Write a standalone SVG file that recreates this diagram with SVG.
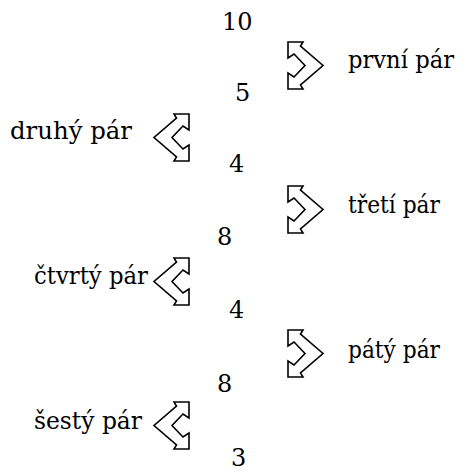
<svg xmlns="http://www.w3.org/2000/svg" width="465" height="472" viewBox="0 0 465 472">
<style>
.t{font-family:'DejaVu Serif',serif;font-size:24px;fill:#000}
.arw{fill:#fff;stroke:#000;stroke-width:1.6;stroke-linejoin:miter}
</style>
<defs>
<path id="chev" d="M0,0 H15 L12.5,4 L35,23.5 L12.5,43 L15,47 H0 V31 L6,35 L17,23.5 L6,12 L0,16 Z"/>
</defs>
<g id="numbers">
<text class="t" x="222" y="30">10</text>
<text class="t" x="235" y="101">5</text>
<text class="t" x="229" y="172">4</text>
<text class="t" x="217" y="245">8</text>
<text class="t" x="229" y="318">4</text>
<text class="t" x="217" y="392">8</text>
<text class="t" x="231" y="466">3</text>
</g>
<g id="pair1"><use href="#chev" class="arw" transform="translate(288,42)"/><text class="t" x="348" y="68" textLength="106" lengthAdjust="spacingAndGlyphs">první pár</text></g>
<g id="pair2"><use href="#chev" class="arw" transform="translate(189,114) scale(-1,1)"/><text class="t" x="10" y="139" textLength="122" lengthAdjust="spacingAndGlyphs">druhý pár</text></g>
<g id="pair3"><use href="#chev" class="arw" transform="translate(288,186)"/><text class="t" x="348" y="213" textLength="92" lengthAdjust="spacingAndGlyphs">třetí pár</text></g>
<g id="pair4"><use href="#chev" class="arw" transform="translate(189,258) scale(-1,1)"/><text class="t" x="34" y="284" textLength="114" lengthAdjust="spacingAndGlyphs">čtvrtý pár</text></g>
<g id="pair5"><use href="#chev" class="arw" transform="translate(288,330)"/><text class="t" x="348" y="358" textLength="92" lengthAdjust="spacingAndGlyphs">pátý pár</text></g>
<g id="pair6"><use href="#chev" class="arw" transform="translate(189,402) scale(-1,1)"/><text class="t" x="34" y="429" textLength="108" lengthAdjust="spacingAndGlyphs">šestý pár</text></g>
</svg>
